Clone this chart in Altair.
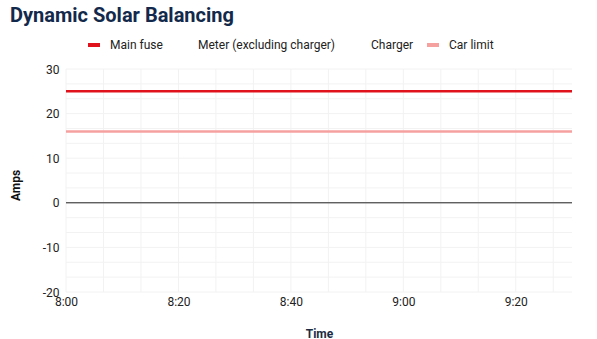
import altair as alt
import pandas as pd

# ---- data ----
times = ["08:00", "08:05", "08:10", "08:15", "08:20", "08:25", "08:30", "08:35", "08:40",
         "08:45", "08:50", "08:55", "09:00", "09:05", "09:10", "09:15", "09:20", "09:25", "09:30"]
main_fuse = [25, 25, 25, 25, 25, 25, 25, 25, 25, 25, 25, 25, 25, 25, 25, 25, 25, 25, 25]
car_limit = [16, 16, 16, 16, 16, 16, 16, 16, 16, 16, 16, 16, 16, 16, 16, 16, 16, 16, 16]
meter = []     # no visible data
charger = []   # no visible data
series_names = ["Main fuse", "Meter (excluding charger)", "Charger", "Car limit"]
series_colors = ["#e0121b", "transparent", "transparent", "#f4a19f"]
zero_line = [0]
y_ticks = [-20, -10, 0, 10, 20, 30]
x_ticks = ["08:00", "08:20", "08:40", "09:00", "09:20"]

rows = []
for t, v in zip(times, main_fuse):
    rows.append({"time": f"2024-01-01T{t}:00", "series": "Main fuse", "value": v})
for t, v in zip(times, car_limit):
    rows.append({"time": f"2024-01-01T{t}:00", "series": "Car limit", "value": v})
df = pd.DataFrame(rows)
zdf = pd.DataFrame({"value": zero_line})

FONT = "Roboto"
GRID = "#f2f2f2"


def dt(total_seconds):
    m, s = divmod(total_seconds, 60)
    h, m = divmod(m, 60)
    return alt.DateTime(year=2024, month=1, date=1, hours=8 + h, minutes=m, seconds=s)


# faint grid lines every third of a labelled step
ygrid = pd.DataFrame({"value": [-20 + k * 10 / 3 for k in range(16)]})
xgrid = pd.DataFrame({"time": [pd.Timestamp("2024-01-01 08:00:00") + pd.Timedelta(seconds=400 * k)
                               for k in range(14)]})
xgrid["time"] = xgrid["time"].dt.strftime("%Y-%m-%dT%H:%M:%S")

x_scale = alt.Scale(domain=[dt(0), dt(5400)])
y_scale = alt.Scale(domain=[-20, 30], nice=False)

x_axis = alt.Axis(values=[dt(1200 * k) for k in range(len(x_ticks))], format="%-H:%M",
                  domain=False, ticks=False, grid=False, labelPadding=4,
                  labelColor="#222", labelFontSize=12, labelFont=FONT,
                  titleFont=FONT, titleFontSize=12, titleColor="#1c2b42", titlePadding=21,
                  labelFlush=False)
y_axis = alt.Axis(values=y_ticks, labelExpr="'' + datum.value",
                  domain=False, ticks=False, grid=False, labelPadding=7,
                  labelColor="#222", labelFontSize=12, labelFont=FONT,
                  titleFont=FONT, titleFontSize=12, titleColor="#111", titlePadding=20,
                  titleY=116)


def X():
    return alt.X("time:T", title="Time", scale=x_scale, axis=x_axis)


def Y():
    return alt.Y("value:Q", title="Amps", scale=y_scale, axis=y_axis)


hgrid = alt.Chart(ygrid).mark_rule(color=GRID, strokeWidth=1).encode(y=Y())
vgrid = alt.Chart(xgrid).mark_rule(color=GRID, strokeWidth=1).encode(x=X())

lines = alt.Chart(df).mark_line(strokeWidth=2.5).encode(
    x=X(), y=Y(),
    color=alt.Color("series:N",
                    scale=alt.Scale(domain=series_names, range=series_colors),
                    sort=series_names,
                    legend=alt.Legend(title=None, orient="none", direction="horizontal",
                                      legendX=20, legendY=-32,
                                      symbolType="stroke", symbolSize=144, symbolStrokeWidth=4,
                                      columnPadding=5, labelOffset=8,
                                      labelFont=FONT, labelFontSize=12, labelColor="#222")),
)

zero = alt.Chart(zdf).mark_rule(color="#222", strokeWidth=1).encode(y=Y())

chart = alt.layer(hgrid, vgrid, lines, zero).properties(
    width=506, height=223,
    title=alt.TitleParams("Dynamic Solar Balancing", anchor="start", frame="group",
                          font=FONT, fontSize=20, fontWeight="bold", color="#13294b",
                          dx=-56, offset=11),
    autosize=alt.AutoSizeParams(type="none"),
    padding={"left": 66, "top": 69, "right": 25, "bottom": 47},
).configure_view(stroke=None)

chart.save("out.html", embed_options={"renderer": "svg", "actions": False})
